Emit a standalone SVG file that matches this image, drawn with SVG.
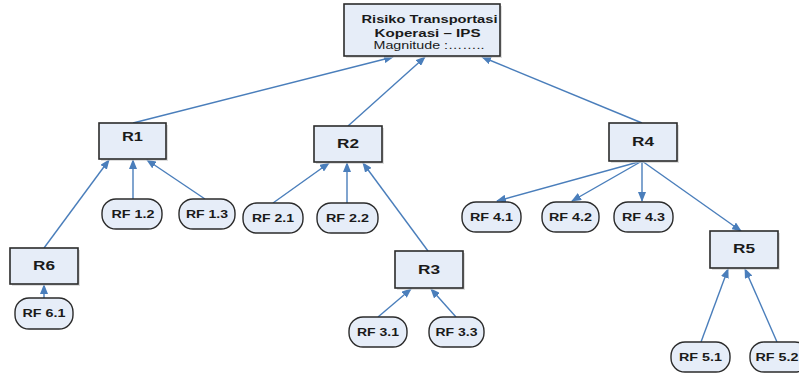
<svg xmlns="http://www.w3.org/2000/svg" width="799" height="373" viewBox="0 0 799 373">
<defs>
<marker id="ah" markerWidth="10" markerHeight="8" refX="9" refY="4" orient="auto" markerUnits="userSpaceOnUse">
<path d="M0,0 L10,4 L0,8 z" fill="#4a7ebb"/>
</marker>
<style>
.box{fill:#e6edf8;stroke:#2b2b2b;stroke-width:1.6}
.sh{fill:#c8c8c8;opacity:0.6}
.rf{fill:#e6edf8;stroke:#2b2b2b;stroke-width:1.4}
.t{font-family:"Liberation Sans",Arial,sans-serif;font-weight:bold;fill:#1a1a1a;text-anchor:middle}
.tr{font-size:13px}
.tf{font-size:11.5px}
.c line{stroke:#4a7ebb;stroke-width:1.4;marker-end:url(#ah)}
</style>
</defs>
<rect width="799" height="373" fill="#ffffff"/>
<g class="c" id="connectors">
<line x1="133" y1="123" x2="393" y2="57"/>
<line x1="348" y1="126" x2="425" y2="57"/>
<line x1="642" y1="123" x2="482" y2="57"/>
<line x1="133" y1="199" x2="133" y2="160"/>
<line x1="205" y1="199" x2="147" y2="160"/>
<line x1="44" y1="248" x2="109" y2="160"/>
<line x1="44" y1="298" x2="44" y2="285"/>
<line x1="273" y1="203" x2="329" y2="163"/>
<line x1="347" y1="203" x2="347" y2="163"/>
<line x1="428" y1="251" x2="363" y2="163"/>
<line x1="378" y1="317" x2="411" y2="289"/>
<line x1="456" y1="317" x2="431" y2="289"/>
<line x1="642" y1="161" x2="497" y2="201"/>
<line x1="642" y1="161" x2="572" y2="201"/>
<line x1="642" y1="161" x2="642" y2="201"/>
<line x1="642" y1="161" x2="741" y2="231"/>
<line x1="701" y1="342" x2="728" y2="269"/>
<line x1="777" y1="342" x2="745" y2="269"/>
</g>
<g id="top">
<rect class="sh" x="346" y="6" width="156" height="52"/>
<rect class="box" x="344" y="4" width="156" height="52"/>
<text class="t" x="429.5" y="23" font-size="11" textLength="136" lengthAdjust="spacingAndGlyphs">Risiko Transportasi</text>
<text class="t" x="427.5" y="37" font-size="11" textLength="106" lengthAdjust="spacingAndGlyphs">Koperasi – IPS</text>
<text x="429" y="49" font-size="11" font-family="Liberation Sans,Arial,sans-serif" fill="#1a1a1a" text-anchor="middle" textLength="111" lengthAdjust="spacingAndGlyphs">Magnitude :……..</text>
</g>
<g id="R1"><rect class="sh" x="101" y="125" width="67" height="36"/><rect class="box" x="99" y="123" width="67" height="36"/><text class="t tr" x="132.5" y="141" textLength="21" lengthAdjust="spacingAndGlyphs">R1</text></g>
<g id="R2"><rect class="sh" x="316" y="128" width="68" height="36"/><rect class="box" x="314" y="126" width="68" height="36"/><text class="t tr" x="348" y="148" textLength="22" lengthAdjust="spacingAndGlyphs">R2</text></g>
<g id="R3"><rect class="sh" x="397" y="253" width="68" height="37"/><rect class="box" x="395" y="251" width="68" height="37"/><text class="t tr" x="429" y="274" textLength="22" lengthAdjust="spacingAndGlyphs">R3</text></g>
<g id="R4"><rect class="sh" x="611" y="125" width="68" height="38"/><rect class="box" x="609" y="123" width="68" height="38"/><text class="t tr" x="643" y="146" textLength="22" lengthAdjust="spacingAndGlyphs">R4</text></g>
<g id="R5"><rect class="sh" x="712" y="233" width="68" height="37"/><rect class="box" x="710" y="231" width="68" height="37"/><text class="t tr" x="744" y="253" textLength="22" lengthAdjust="spacingAndGlyphs">R5</text></g>
<g id="R6"><rect class="sh" x="12" y="250" width="68" height="36"/><rect class="box" x="10" y="248" width="68" height="36"/><text class="t tr" x="44" y="270" textLength="22" lengthAdjust="spacingAndGlyphs">R6</text></g>
<g id="RF12"><rect class="rf" x="102" y="199" width="60" height="30" rx="14"/><text class="t tf" x="133" y="218" textLength="43" lengthAdjust="spacingAndGlyphs">RF 1.2</text></g>
<g id="RF13"><rect class="rf" x="179" y="199" width="56" height="30" rx="14"/><text class="t tf" x="207" y="218" textLength="42" lengthAdjust="spacingAndGlyphs">RF 1.3</text></g>
<g id="RF61"><rect class="rf" x="15" y="298" width="58" height="31" rx="14"/><text class="t tf" x="44" y="317" textLength="43" lengthAdjust="spacingAndGlyphs">RF 6.1</text></g>
<g id="RF21"><rect class="rf" x="243" y="203" width="60" height="30" rx="14"/><text class="t tf" x="273" y="222" textLength="42" lengthAdjust="spacingAndGlyphs">RF 2.1</text></g>
<g id="RF22"><rect class="rf" x="317" y="203" width="61" height="30" rx="14"/><text class="t tf" x="347.5" y="222" textLength="43" lengthAdjust="spacingAndGlyphs">RF 2.2</text></g>
<g id="RF31"><rect class="rf" x="349" y="317" width="58" height="30" rx="14"/><text class="t tf" x="378" y="336" textLength="42" lengthAdjust="spacingAndGlyphs">RF 3.1</text></g>
<g id="RF33"><rect class="rf" x="429" y="317" width="55" height="30" rx="14"/><text class="t tf" x="456.5" y="336" textLength="42" lengthAdjust="spacingAndGlyphs">RF 3.3</text></g>
<g id="RF41"><rect class="rf" x="462" y="202" width="59" height="30" rx="14"/><text class="t tf" x="491.5" y="221" textLength="43" lengthAdjust="spacingAndGlyphs">RF 4.1</text></g>
<g id="RF42"><rect class="rf" x="542" y="202" width="57" height="30" rx="14"/><text class="t tf" x="570.5" y="221" textLength="43" lengthAdjust="spacingAndGlyphs">RF 4.2</text></g>
<g id="RF43"><rect class="rf" x="614" y="202" width="59" height="30" rx="14"/><text class="t tf" x="643.5" y="221" textLength="43" lengthAdjust="spacingAndGlyphs">RF 4.3</text></g>
<g id="RF51"><rect class="rf" x="671" y="342" width="59" height="30" rx="14"/><text class="t tf" x="700.5" y="361" textLength="43" lengthAdjust="spacingAndGlyphs">RF 5.1</text></g>
<g id="RF52"><rect class="rf" x="750" y="342" width="59" height="30" rx="14"/><text class="t tf" x="777" y="361" textLength="43" lengthAdjust="spacingAndGlyphs">RF 5.2</text></g>
</svg>
